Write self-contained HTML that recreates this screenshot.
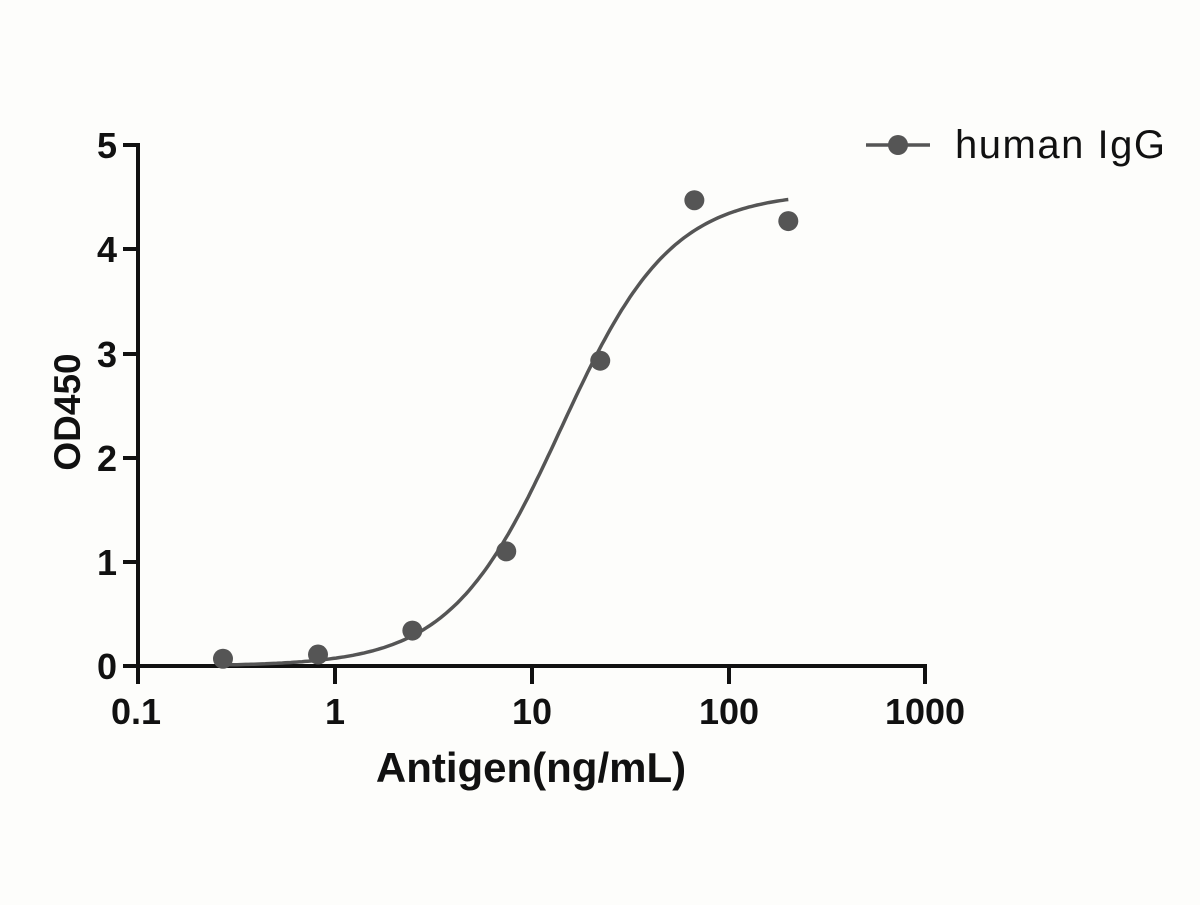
<!DOCTYPE html>
<html><head><style>
body{margin:0;background:#fdfdfb;}
text{font-family:"Liberation Sans",Arial,sans-serif;}
</style></head><body>
<svg id="s" width="1200" height="900" xmlns="http://www.w3.org/2000/svg">
<rect width="1200" height="900" fill="#fdfdfb"/>
<g stroke="#111" stroke-width="4" fill="none" stroke-linecap="square">
<line x1="138" y1="145" x2="138" y2="666"/>
<line x1="138" y1="666" x2="925" y2="666"/>
<line x1="125" y1="145" x2="138" y2="145"/>
<line x1="125" y1="249" x2="138" y2="249"/>
<line x1="125" y1="354" x2="138" y2="354"/>
<line x1="125" y1="458" x2="138" y2="458"/>
<line x1="125" y1="562" x2="138" y2="562"/>
<line x1="125" y1="666" x2="138" y2="666"/>
<line x1="138" y1="666" x2="138" y2="682"/>
<line x1="335" y1="666" x2="335" y2="682"/>
<line x1="532" y1="666" x2="532" y2="682"/>
<line x1="729" y1="666" x2="729" y2="682"/>
<line x1="925" y1="666" x2="925" y2="682"/>
</g>
<g font-size="36" font-weight="bold" fill="#111" text-anchor="end">
<text x="117" y="158">5</text><text x="117" y="262">4</text><text x="117" y="367">3</text>
<text x="117" y="471">2</text><text x="117" y="575">1</text><text x="117" y="679">0</text>
</g>
<g font-size="36" font-weight="bold" fill="#111" text-anchor="middle">
<text x="136" y="724">0.1</text><text x="335" y="724">1</text><text x="532" y="724">10</text>
<text x="729" y="724">100</text><text x="925" y="724">1000</text>
<text x="531" y="782" font-size="42">Antigen(ng/mL)</text>
<text transform="translate(80,412) rotate(-90)" font-size="37">OD450</text>
</g>
<path id="c" fill="none" stroke="#555" stroke-width="3.5"/>
<g fill="#555" id="pts"></g>
<line x1="866" y1="145" x2="930" y2="145" stroke="#555" stroke-width="3.5"/>
<circle cx="898" cy="145" r="10" fill="#555"/>
<text x="955" y="158" font-size="40" fill="#111" textLength="210">human IgG</text>
</svg>
<script>
var X=v=>138+197*(Math.log10(v)+1),Y=v=>666-104.2*v;
var f=x=>0.0+4.55*Math.pow(x/14,1.55)/(1+Math.pow(x/14,1.55));
var d="";for(var i=0;i<=200;i++){var lx=Math.log10(0.27)+i/200*(Math.log10(200)-Math.log10(0.27));var x=Math.pow(10,lx);d+=(i?"L":"M")+X(x).toFixed(1)+" "+Y(f(x)).toFixed(1);}
document.getElementById("c").setAttribute("d",d);
var p=[[0.27,0.07],[0.82,0.11],[2.47,0.34],[7.4,1.1],[22.2,2.93],[66.7,4.47],[200,4.27]],g=document.getElementById("pts");
p.forEach(q=>{var c=document.createElementNS("http://www.w3.org/2000/svg","circle");c.setAttribute("cx",X(q[0]));c.setAttribute("cy",Y(q[1]));c.setAttribute("r",10);g.appendChild(c);});
</script>
</body></html>
